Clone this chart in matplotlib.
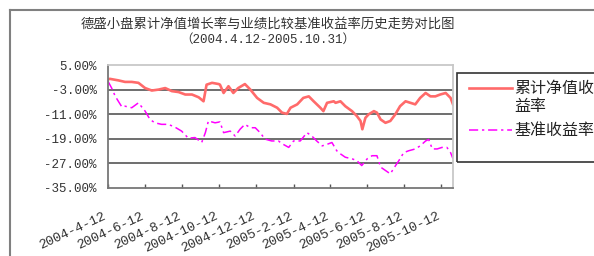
import numpy as np
import matplotlib
matplotlib.use("Agg")
import matplotlib.pyplot as plt
import matplotlib.transforms as mtransforms
from matplotlib.patches import Rectangle
from matplotlib.lines import Line2D
import pandas as pd

plt.rcParams['font.family'] = ['Noto Sans CJK SC', 'DejaVu Sans']

# --- datos (%) ---
nav_dates = ['2004-04-12', '2004-04-15', '2004-04-29', '2004-05-10', '2004-05-21', '2004-06-01',
             '2004-06-12', '2004-06-23', '2004-07-04', '2004-07-15', '2004-07-26', '2004-08-06',
             '2004-08-17', '2004-08-28', '2004-09-08', '2004-09-16', '2004-09-21', '2004-09-30',
             '2004-10-11', '2004-10-13', '2004-10-19', '2004-10-27', '2004-11-04', '2004-11-12',
             '2004-11-23', '2004-12-02', '2004-12-13', '2004-12-24', '2005-01-04', '2005-01-15',
             '2005-01-23', '2005-01-31', '2005-02-06', '2005-02-17', '2005-02-27', '2005-03-08',
             '2005-03-16', '2005-03-27', '2005-04-01', '2005-04-07', '2005-04-18', '2005-04-21',
             '2005-04-29', '2005-05-07', '2005-05-18', '2005-05-26', '2005-06-01', '2005-06-04',
             '2005-06-09', '2005-06-14', '2005-06-23', '2005-06-28', '2005-07-04', '2005-07-12',
             '2005-07-20', '2005-07-28', '2005-08-05', '2005-08-14', '2005-08-22', '2005-08-30',
             '2005-09-07', '2005-09-16', '2005-09-24', '2005-10-02', '2005-10-10', '2005-10-19',
             '2005-10-27', '2005-10-31']
nav = [0.3, 0.5, 0.0, -0.5, -0.5, -0.8,
       -2.5, -3.3, -3.0, -2.5, -3.5, -3.8,
       -4.6, -4.6, -5.5, -6.8, -1.4, -0.8,
       -1.2, -1.4, -4.1, -1.9, -4.1, -2.5,
       -1.2, -3.0, -5.7, -7.3, -7.8, -8.9,
       -10.5, -10.9, -8.9, -7.8, -5.7, -5.2,
       -6.8, -8.9, -10.0, -7.3, -6.8, -7.3,
       -6.8, -8.4, -10.0, -11.6, -13.2, -15.9,
       -12.2, -11.1, -10.0, -10.5, -12.7, -13.8,
       -13.2, -11.1, -8.4, -6.8, -7.3, -7.8,
       -5.7, -4.1, -5.2, -5.2, -4.6, -4.1,
       -5.7, -7.8]

bm_dates = ['2004-04-12', '2004-04-18', '2004-04-24', '2004-04-29', '2004-05-05', '2004-05-10',
            '2004-05-21', '2004-06-01', '2004-06-12', '2004-06-20', '2004-06-28', '2004-07-09',
            '2004-07-20', '2004-07-31', '2004-08-11', '2004-08-22', '2004-09-02', '2004-09-13',
            '2004-09-19', '2004-09-24', '2004-10-05', '2004-10-13', '2004-10-19', '2004-10-30',
            '2004-11-07', '2004-11-15', '2004-11-23', '2004-12-02', '2004-12-10', '2004-12-18',
            '2004-12-26', '2005-01-06', '2005-01-17', '2005-01-25', '2005-02-03', '2005-02-11',
            '2005-02-22', '2005-03-05', '2005-03-13', '2005-03-21', '2005-03-30', '2005-04-07',
            '2005-04-15', '2005-04-23', '2005-04-29', '2005-05-07', '2005-05-18', '2005-05-26',
            '2005-06-03', '2005-06-12', '2005-06-20', '2005-06-28', '2005-07-04', '2005-07-12',
            '2005-07-20', '2005-07-25', '2005-08-03', '2005-08-11', '2005-08-19', '2005-08-30',
            '2005-09-07', '2005-09-16', '2005-09-21', '2005-09-27', '2005-10-05', '2005-10-13',
            '2005-10-21', '2005-10-27', '2005-10-31']
bm = [-0.3, -2.5, -5.2, -6.8, -8.7, -8.4,
      -8.9, -7.3, -10.0, -12.7, -13.8, -14.3,
      -14.3, -15.2, -16.5, -18.8, -18.6, -20.2,
      -17.0, -13.2, -13.8, -13.5, -17.0, -16.5,
      -18.1, -15.9, -14.3, -15.4, -15.4, -17.0,
      -19.1, -19.7, -19.7, -20.8, -21.8, -19.7,
      -19.7, -17.0, -18.1, -19.7, -21.3, -20.8,
      -20.2, -22.9, -23.9, -25.0, -25.5, -26.1,
      -27.7, -25.5, -24.5, -24.5, -28.2, -29.3,
      -30.4, -28.8, -26.1, -23.5, -22.9, -22.3,
      -21.3, -19.7, -19.2, -22.3, -22.3, -21.8,
      -21.8, -23.5, -25.5]

tick_dates = ['2004-04-12', '2004-06-12', '2004-08-12', '2004-10-12', '2004-12-12',
              '2005-02-12', '2005-04-12', '2005-06-12', '2005-08-12', '2005-10-12']
tick_labels = ['2004-4-12', '2004-6-12', '2004-8-12', '2004-10-12', '2004-12-12',
               '2005-2-12', '2005-4-12', '2005-6-12', '2005-8-12', '2005-10-12']
y_ticks = [5, -3, -11, -19, -27, -35]

title = '德盛小盘累计净值增长率与业绩比较基准收益率历史走势对比图'
subtitle = '（2004.4.12-2005.10.31）'
labels = ['累计净值收', '益率', '基准收益率']
colors = ['#ff6a6a', '#ff00ff']
dash_dot = (0, (6, 2.5, 1.5, 2.5))

# --- figura ---
W, H = 594, 256
fig = plt.figure(figsize=(W / 100, H / 100), dpi=100)
ax = fig.add_axes([108 / W, 1 - 188 / H, (453 - 108) / W, (188 - 65) / H])

ax.plot(pd.to_datetime(nav_dates), nav, color=colors[0], lw=1.9)
ax.plot(pd.to_datetime(bm_dates), bm, color=colors[1], lw=1.1, linestyle=dash_dot)

ax.set_xlim(pd.Timestamp('2004-04-12'), pd.Timestamp('2005-10-31'))
ax.set_ylim(-35, 5)
ax.set_yticks(y_ticks)
ax.set_yticklabels(['%.2f%%' % v for v in y_ticks], family=['Liberation Mono', 'DejaVu Sans'],
                   fontsize=9, color='#333333')
ax.tick_params(axis='y', length=0, pad=8)

ax.set_xticks(pd.to_datetime(tick_dates))
ax.set_xticklabels(tick_labels, rotation=25, ha='right', va='top', rotation_mode='anchor',
                   family=['Liberation Mono', 'DejaVu Sans'], fontsize=9.6, color='#333333')
ax.tick_params(axis='x', direction='in', length=3, width=1, color='#555555', pad=16)
off = mtransforms.ScaledTranslation(-5 / 100, 0, fig.dpi_scale_trans)
for lab in ax.get_xticklabels():
    lab.set_transform(lab.get_transform() + off)

for v in y_ticks[1:-1]:
    ax.axhline(v, color='#555555', lw=1.2, zorder=0)
for side in ['left', 'bottom']:
    ax.spines[side].set_color('#777777')
    ax.spines[side].set_linewidth(1.3)
for side in ['top', 'right']:
    ax.spines[side].set_color('#c8c8c8')
    ax.spines[side].set_linewidth(1.3)

# marco exterior
fig.add_artist(Line2D([9.5 / W, 9.5 / W], [0, 1 - 10 / H], color='#808080', lw=1.5))
fig.add_artist(Line2D([9.5 / W, 1], [1 - 10 / H, 1 - 10 / H], color='#808080', lw=1.5))

# títulos
fig.text(268 / W, 1 - 24 / H, title, ha='center', va='center', fontsize=9.6, color='#333333')
fig.text(268 / W, 1 - 40 / H, subtitle, ha='center', va='center', fontsize=9, color='#333333',
         family=['Liberation Mono', 'Noto Sans CJK SC'])

# leyenda
fig.add_artist(Rectangle((457 / W, 1 - 162 / H), 0.5, (162 - 73) / H, fill=False,
                         edgecolor='#333333', lw=1.2))
fig.add_artist(Line2D([469 / W, 512 / W], [1 - 88 / H] * 2, color=colors[0], lw=1.9))
fig.add_artist(Line2D([469 / W, 512 / W], [1 - 130 / H] * 2, color=colors[1], lw=1.1,
                      linestyle=dash_dot))
for txt, yy in zip(labels, [88, 107, 130]):
    fig.text(514 / W, 1 - yy / H, txt, ha='left', va='center', fontsize=11.5, color='#222222')

fig.savefig('out.png', dpi=100)
